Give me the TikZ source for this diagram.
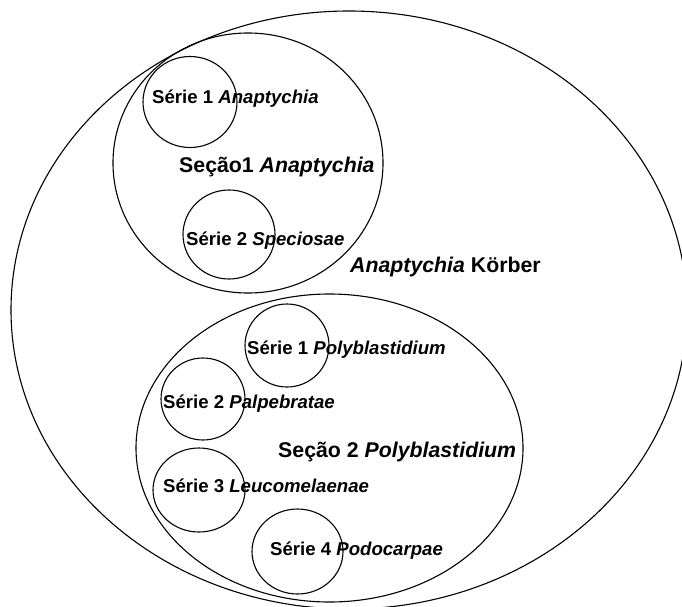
\documentclass[tikz,border=0pt]{standalone}
\usepackage{fontspec}
\setmainfont{Liberation Sans}
\usetikzlibrary{positioning}

\tikzset{
  setline/.style={line width=1.1pt},
  serie/.style={anchor=base west, inner sep=0pt, font=\bfseries\fontsize{18.6}{20}\selectfont},
  secao/.style={anchor=base west, inner sep=0pt, font=\bfseries\fontsize{21.3}{24}\selectfont}
}

\begin{document}
\begin{tikzpicture}[x=1pt, y=-1pt]
    \useasboundingbox (0,0) rectangle (682,607);
    \clip (0,0) rectangle (682,607);

    % Genus
    \draw[setline] (349,310) ellipse [x radius=338pt, y radius=299pt];
    \node[secao] (genus) at (350,272) {\textit{Anaptychia} Körber};

    % Section 1
    \draw[setline] (248,163) ellipse [x radius=135pt, y radius=130pt];
    \node[secao] (sec1) at (179,172) {Seção1 \textit{Anaptychia}};
    \draw[setline] (190,102) ellipse [x radius=47pt, y radius=45.5pt];
    \node[serie] (s1a) at (152,103) {Série 1 \textit{Anaptychia}};
    \draw[setline] (229,234.5) ellipse [x radius=46pt, y radius=44.5pt];
    \node[serie] (s2s) at (186,245) {Série 2 \textit{Speciosae}};

    % Section 2
    \draw[setline] (329.5,448) ellipse [x radius=193.5pt, y radius=154pt];
    \node[secao] (sec2) at (278,457) {Seção 2 \textit{Polyblastidium}};
    \draw[setline] (287,345.5) ellipse [x radius=42pt, y radius=41.5pt];
    \node[serie] (s1p) at (247,354) {Série 1 \textit{Polyblastidium}};
    \draw[setline] (203,399) ellipse [x radius=42pt, y radius=41pt];
    \node[serie] (s2p) at (163,408) {Série 2 \textit{Palpebratae}};
    \draw[setline] (199,490) ellipse [x radius=46pt, y radius=42pt];
    \node[serie] (s3l) at (163,492) {Série 3 \textit{Leucomelaenae}};
    \draw[setline] (297.5,551.5) ellipse [x radius=45.5pt, y radius=42.5pt];
    \node[serie] (s4p) at (270,555) {Série 4 \textit{Podocarpae}};
\end{tikzpicture}
\end{document}
